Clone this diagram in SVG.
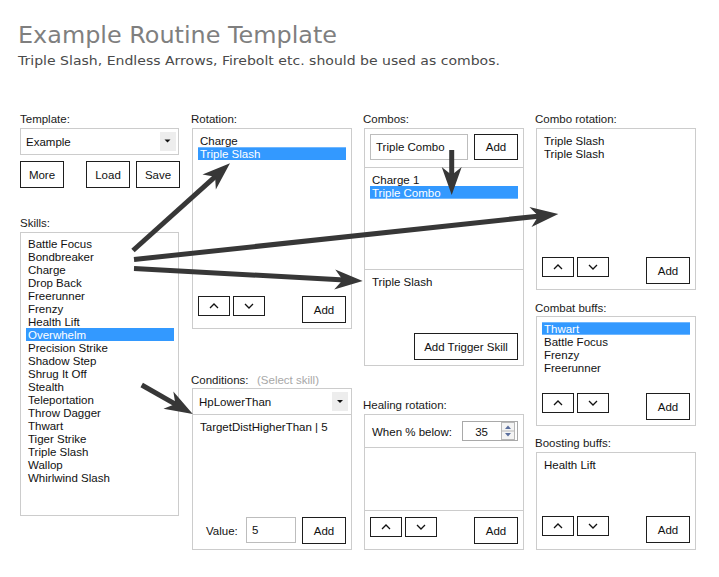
<svg xmlns="http://www.w3.org/2000/svg" width="719" height="577" viewBox="0 0 719 577">
<defs>
<style>
text{font-family:"Liberation Sans",Arial,sans-serif;font-size:11.5px;fill:#111}
.lbl{fill:#1a1a1a}
.hint{fill:#a8a8a8}
.sel{fill:#fff}
.box{fill:#fff;stroke:#cccccc;stroke-width:1}
.div{stroke:#cccccc;stroke-width:1}
.inp{fill:#fff;stroke:#bdbdbd;stroke-width:1}
.btn{fill:#fff;stroke:#1e1e1e;stroke-width:1}
.bt{text-anchor:middle}
.hl{fill:#3399ff}
.dd{fill:#ededed}
.chev{fill:none;stroke:#111;stroke-width:1.3}
.con{fill:none;stroke:#373737;stroke-width:5;marker-end:url(#ah)}
</style>
<marker id="ah" markerUnits="userSpaceOnUse" markerWidth="30" markerHeight="22" refX="10" refY="10" orient="auto" overflow="visible">
<path d="M28,10 L0,0 L8,10 L0,20 Z" fill="#373737"/>
</marker>
<g id="up"><rect class="btn" x="0.5" y="0.5" width="31" height="19"/><polyline class="chev" points="12,12 16,8 20,12"/></g>
<g id="down"><rect class="btn" x="0.5" y="0.5" width="31" height="19"/><polyline class="chev" points="12,8 16,12 20,8"/></g>
</defs>
<rect width="719" height="577" fill="#fff"/>

<g id="header">
<text x="18" y="43" style="font-family:'DejaVu Sans',Verdana,sans-serif;font-size:23.5px;fill:#7f7f7f" textLength="319" lengthAdjust="spacingAndGlyphs">Example Routine Template</text>
<text x="18" y="65" style="font-family:'DejaVu Sans',Verdana,sans-serif;font-size:13px;fill:#4a4a4a" textLength="482" lengthAdjust="spacingAndGlyphs">Triple Slash, Endless Arrows, Firebolt etc. should be used as combos.</text>
</g>

<g id="template">
<text class="lbl" x="20" y="123">Template:</text>
<rect class="box" x="20.5" y="128.5" width="158" height="26"/>
<rect class="dd" x="160" y="132" width="16" height="19"/>
<path d="M164.5,139.5 L170.5,139.5 L167.5,142.5 Z" fill="#111"/>
<text x="26" y="145.5">Example</text>
<rect class="btn" x="20.5" y="161.5" width="43" height="26"/>
<text class="bt" x="42" y="179">More</text>
<rect class="btn" x="86.5" y="161.5" width="43" height="26"/>
<text class="bt" x="108" y="179">Load</text>
<rect class="btn" x="136.5" y="161.5" width="43" height="26"/>
<text class="bt" x="158" y="179">Save</text>
</g>

<g id="skills">
<text class="lbl" x="20" y="226.5">Skills:</text>
<rect class="box" x="20.5" y="232.5" width="158" height="283"/>
<rect class="hl" x="26" y="328" width="148" height="13"/>
<text x="28" y="248.3">Battle Focus</text>
<text x="28" y="261.3">Bondbreaker</text>
<text x="28" y="274.3">Charge</text>
<text x="28" y="287.3">Drop Back</text>
<text x="28" y="300.3">Freerunner</text>
<text x="28" y="313.3">Frenzy</text>
<text x="28" y="326.3">Health Lift</text>
<text class="sel" x="28" y="339.3">Overwhelm</text>
<text x="28" y="352.3">Precision Strike</text>
<text x="28" y="365.3">Shadow Step</text>
<text x="28" y="378.3">Shrug It Off</text>
<text x="28" y="391.3">Stealth</text>
<text x="28" y="404.3">Teleportation</text>
<text x="28" y="417.3">Throw Dagger</text>
<text x="28" y="430.3">Thwart</text>
<text x="28" y="443.3">Tiger Strike</text>
<text x="28" y="456.3">Triple Slash</text>
<text x="28" y="469.3">Wallop</text>
<text x="28" y="482.3">Whirlwind Slash</text>
</g>

<g id="rotation">
<text class="lbl" x="191" y="123">Rotation:</text>
<rect class="box" x="192.5" y="128.5" width="159" height="200"/>
<text x="200" y="145.3">Charge</text>
<rect class="hl" x="198" y="147.3" width="148" height="12.7"/>
<text class="sel" x="200" y="158.3">Triple Slash</text>
<use href="#up" x="198" y="296"/>
<use href="#down" x="233" y="296"/>
<rect class="btn" x="302.5" y="296.5" width="43" height="26"/>
<text class="bt" x="324" y="313.5">Add</text>
</g>

<g id="combos">
<text class="lbl" x="363" y="123">Combos:</text>
<rect class="box" x="364.5" y="128.5" width="159" height="237"/>
<rect class="inp" x="370.5" y="134.5" width="97" height="25"/>
<text x="376" y="151.3">Triple Combo</text>
<rect class="btn" x="474.5" y="134.5" width="43" height="25"/>
<text class="bt" x="496" y="151.3">Add</text>
<line class="div" x1="364.5" y1="167.5" x2="523.5" y2="167.5"/>
<text x="372" y="184.3">Charge 1</text>
<rect class="hl" x="370" y="186" width="148" height="12.7"/>
<text class="sel" x="372" y="197">Triple Combo</text>
<line class="div" x1="364.5" y1="269.5" x2="523.5" y2="269.5"/>
<text x="372" y="286">Triple Slash</text>
<rect class="btn" x="414.5" y="333.5" width="103" height="26"/>
<text class="bt" x="466" y="350.5">Add Trigger Skill</text>
</g>

<g id="combo-rotation">
<text class="lbl" x="535" y="123">Combo rotation:</text>
<rect class="box" x="536.5" y="128.5" width="159" height="161"/>
<text x="544" y="145.3">Triple Slash</text>
<text x="544" y="158.3">Triple Slash</text>
<use href="#up" x="542" y="257"/>
<use href="#down" x="577" y="257"/>
<rect class="btn" x="646.5" y="257.5" width="43" height="26"/>
<text class="bt" x="668" y="274.5">Add</text>
</g>

<g id="combat-buffs">
<text class="lbl" x="535" y="311.7">Combat buffs:</text>
<rect class="box" x="536.5" y="316.5" width="159" height="109"/>
<rect class="hl" x="542" y="322.3" width="148" height="12.4"/>
<text class="sel" x="544" y="332.7">Thwart</text>
<text x="544" y="345.7">Battle Focus</text>
<text x="544" y="358.7">Frenzy</text>
<text x="544" y="371.7">Freerunner</text>
<use href="#up" x="542" y="393"/>
<use href="#down" x="577" y="393"/>
<rect class="btn" x="646.5" y="393.5" width="43" height="26"/>
<text class="bt" x="668" y="410.5">Add</text>
</g>

<g id="conditions">
<text class="lbl" x="191" y="383.5">Conditions:</text>
<text class="hint" x="257" y="383.5">(Select skill)</text>
<rect class="box" x="192.5" y="388.5" width="159" height="161"/>
<rect class="dd" x="332" y="392" width="16" height="19"/>
<path d="M337,400 L343,400 L340,403 Z" fill="#111"/>
<text x="199" y="406">HpLowerThan</text>
<line class="div" x1="192.5" y1="414.5" x2="351.5" y2="414.5"/>
<text x="200" y="430.7">TargetDistHigherThan | 5</text>
<text x="206" y="535">Value:</text>
<rect class="inp" x="246.5" y="517.5" width="49" height="25"/>
<text x="252" y="534">5</text>
<rect class="btn" x="302.5" y="517.5" width="43" height="26"/>
<text class="bt" x="324" y="534.5">Add</text>
</g>

<g id="healing-rotation">
<text class="lbl" x="363" y="409">Healing rotation:</text>
<rect class="box" x="364.5" y="414.5" width="159" height="135"/>
<text x="372" y="435.5">When % below:</text>
<rect fill="#fff" stroke="#a9a9a9" x="462.5" y="421.5" width="55" height="19"/>
<text x="488" y="435.5" style="text-anchor:end">35</text>
<rect fill="#f4f4f4" stroke="#b8b8b8" x="501.5" y="422.5" width="13" height="17"/>
<line stroke="#b8b8b8" x1="501.5" y1="431" x2="514.5" y2="431"/>
<path d="M505,429 L511,429 L508,425.5 Z" fill="#5b6f9e"/>
<path d="M505,433 L511,433 L508,436.5 Z" fill="#5b6f9e"/>
<line class="div" x1="364.5" y1="447.5" x2="523.5" y2="447.5"/>
<line class="div" x1="364.5" y1="510.5" x2="523.5" y2="510.5"/>
<use href="#up" x="370" y="517"/>
<use href="#down" x="405" y="517"/>
<rect class="btn" x="474.5" y="517.5" width="43" height="26"/>
<text class="bt" x="496" y="534.5">Add</text>
</g>

<g id="boosting-buffs">
<text class="lbl" x="535" y="446.7">Boosting buffs:</text>
<rect class="box" x="536.5" y="452.5" width="159" height="97"/>
<text x="544" y="469">Health Lift</text>
<use href="#up" x="542" y="516"/>
<use href="#down" x="577" y="516"/>
<rect class="btn" x="646.5" y="516.5" width="43" height="26"/>
<text class="bt" x="668" y="533.5">Add</text>
</g>

<g id="connectors">
<line class="con" x1="133" y1="250.5" x2="216.6" y2="175.3"/>
<line class="con" x1="134" y1="259.5" x2="540.4" y2="215.9"/>
<line class="con" x1="134" y1="268.5" x2="344.7" y2="280"/>
<line class="con" x1="451.7" y1="150" x2="451.7" y2="177"/>
<line class="con" x1="141.7" y1="385" x2="177.1" y2="405.1"/>
</g>
</svg>
